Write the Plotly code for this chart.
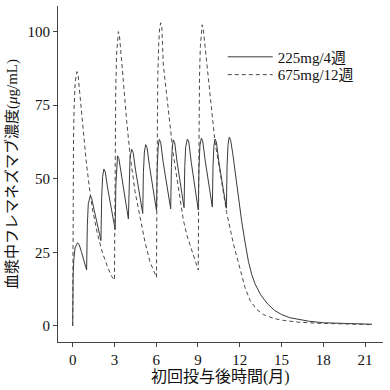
import plotly.graph_objects as go

# 225mg/4週 (solid)
t_225 = [0, 0.01, 0.03, 0.08, 0.17, 0.35, 0.47, 0.62, 0.82, 1.0,
         1.05, 1.12, 1.27, 1.37, 1.55, 1.82, 2.03,
         2.08, 2.15, 2.24, 2.34, 2.52, 2.79, 3.05,
         3.10, 3.15, 3.22, 3.32, 3.50, 3.77, 4.0,
         4.05, 4.12, 4.24, 4.34, 4.52, 4.79, 5.03,
         5.08, 5.15, 5.24, 5.34, 5.52, 5.79, 6.02,
         6.07, 6.14, 6.22, 6.32, 6.50, 6.77, 7.04,
         7.09, 7.15, 7.23, 7.33, 7.50, 7.76, 8.0,
         8.05, 8.12, 8.24, 8.34, 8.52, 8.79, 9.02,
         9.07, 9.14, 9.24, 9.34, 9.52, 9.79, 10.03,
         10.08, 10.14, 10.22, 10.32, 10.50, 10.77, 11.04,
         11.09, 11.16, 11.25, 11.35, 11.50, 11.66, 11.90, 12.14, 12.38, 12.62,
         12.86, 13.1, 13.5, 14.0, 14.5, 15.0, 15.6, 16.3, 17.0, 18.0, 19.0, 20.0, 21.5]
c_225 = [0, 10, 17, 22.5, 26.5, 28.3, 27.6, 25.3, 21.8, 19.0,
         34.2, 41.5, 44.3, 43.2, 39.2, 33.0, 29.0,
         43.6, 50.8, 53.3, 52.3, 46.5, 39.4, 32.8,
         47.8, 55.3, 57.8, 56.8, 50.7, 43.2, 36.4,
         50.6, 57.5, 60.0, 59.0, 52.8, 45.2, 38.2,
         52.2, 59.1, 61.6, 60.6, 54.2, 46.4, 39.2,
         53.7, 60.9, 63.4, 62.4, 55.6, 47.4, 39.8,
         53.8, 60.7, 63.2, 62.2, 55.6, 47.6, 40.2,
         54.2, 61.0, 63.5, 62.5, 55.5, 47.1, 39.4,
         54.0, 61.3, 63.8, 62.8, 56.1, 47.9, 40.4,
         54.3, 61.0, 63.5, 62.5, 55.7, 47.5, 40.0,
         54.5, 61.7, 64.2, 63.0, 58.5, 52.5, 43.5, 35.5, 28.5, 22.0,
         17.5, 14.3, 10.6, 7.5, 5.3, 3.9, 2.8, 2.1, 1.6, 1.1, 0.9, 0.75, 0.6]

# 675mg/12週 (dashed)
t_675 = [0, 0.01, 0.03, 0.06, 0.10, 0.18, 0.30, 0.38, 0.48, 0.60, 0.72, 0.96, 1.19, 1.43,
         1.79, 2.15, 2.51, 2.80, 3.0,
         3.02, 3.05, 3.09, 3.15, 3.21, 3.28, 3.36, 3.45, 3.64, 3.88, 4.12, 4.48, 4.83,
         5.19, 5.55, 5.91, 6.02,
         6.04, 6.07, 6.11, 6.17, 6.24, 6.32, 6.40, 6.51, 6.75, 6.99, 7.23, 7.59, 7.95,
         8.19, 8.66, 9.02,
         9.04, 9.07, 9.11, 9.17, 9.23, 9.30, 9.38, 9.48, 9.63, 9.99, 10.22, 10.58, 11.06,
         11.54, 12.02, 12.38, 12.74, 13.22, 13.69, 14.41, 15.13, 16.09, 17.5, 18.5, 20.0, 21.5]
c_675 = [0, 20, 45, 64, 74, 83, 86.4, 85.5, 80.5, 74.0, 67.7, 56.4, 47.3, 39.4,
         31.0, 24.7, 20.0, 16.8, 15.6,
         35, 62, 80, 92, 98, 100, 98.5, 94, 83.1, 69.5, 58.1, 45.6, 37.7,
         28.6, 21.8, 17.3, 16.5,
         38, 65, 84, 95, 101, 103, 101.5, 88.7, 77.4, 68.3, 58.1, 46.8, 36.0,
         31.0, 24.0, 19.0,
         40, 67, 85, 95, 100.5, 102.3, 100.8, 96, 88.7, 71.7, 62.6, 52.4, 38.5,
         28.0, 19.0, 13.0, 8.7, 5.6, 3.9, 2.6, 1.9, 1.35, 0.95, 0.8, 0.6, 0.45]

x_ticks = [0, 3, 6, 9, 12, 15, 18, 21]
y_ticks = [0, 25, 50, 75, 100]
names = ["225mg/4週", "675mg/12週"]
x_title = "初回投与後時間(月)"
y_title = "血漿中フレマネズマブ濃度(<i>μ</i>g/mL)"

FONT = "Liberation Serif, 'Noto Sans CJK JP', serif"
AX = "#444"

fig = go.Figure()
fig.add_trace(go.Scatter(x=t_225, y=c_225, mode="lines", name=names[0],
                         line=dict(color="#3a3a3a", width=1), legend="legend"))
fig.add_trace(go.Scatter(x=t_675, y=c_675, mode="lines", name=names[1],
                         line=dict(color="#4a4a4a", width=1, dash="4px,3px"),
                         legend="legend2"))

leg_common = dict(xanchor="left", yanchor="middle", bgcolor="rgba(0,0,0,0)",
                  borderwidth=0, itemwidth=45,
                  font=dict(family=FONT, size=15, color="#111"))

fig.update_layout(
    width=390, height=390,
    margin=dict(l=58, r=7, t=6, b=48),
    paper_bgcolor="white", plot_bgcolor="white",
    font=dict(family=FONT, size=15, color="#111"),
    showlegend=True,
    legend=dict(x=0.507, y=0.848, **leg_common),
    legend2=dict(x=0.507, y=0.795, **leg_common),
    xaxis=dict(range=[-1.056, 22.29], tickvals=x_ticks, ticks="outside", ticklen=4,
               tickcolor=AX, showline=True, linecolor=AX, linewidth=1,
               showgrid=False, zeroline=False, tickfont=dict(size=15)),
    yaxis=dict(range=[-5.44, 108.7], tickvals=y_ticks, ticks="outside", ticklen=4,
               tickcolor=AX, showline=True, linecolor=AX, linewidth=1,
               showgrid=False, zeroline=False, tickfont=dict(size=15)),
    annotations=[
        dict(text=x_title, xref="paper", yref="paper", x=0.5, y=0, yshift=-35,
             showarrow=False, yanchor="middle", font=dict(size=16)),
        dict(text=y_title, xref="paper", yref="paper", x=0, y=0.5, xshift=-46,
             showarrow=False, textangle=-90, xanchor="center", font=dict(size=15)),
    ],
)
fig.write_html("out.html", config={"displayModeBar": False},
               post_script="document.body.style.margin='0px';")
